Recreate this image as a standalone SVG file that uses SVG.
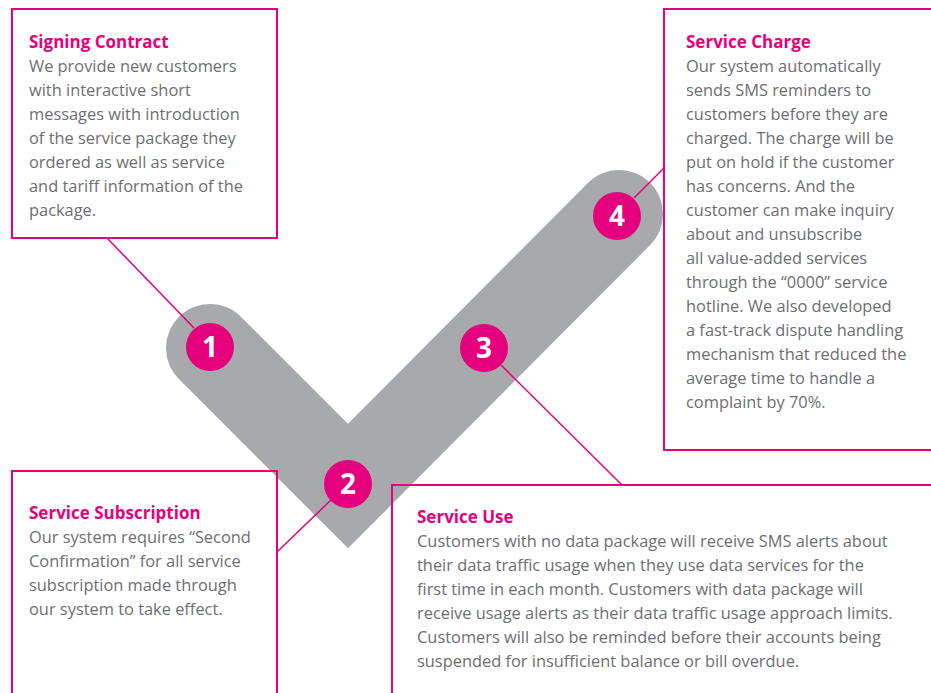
<svg xmlns="http://www.w3.org/2000/svg" width="931" height="693" viewBox="0 0 931 693">
<style>
.box{fill:none;stroke:#e5007e;stroke-width:2}
.conn{stroke:#e5007e;stroke-width:1.5;fill:none}
.t{font-family:"Open Sans","Liberation Sans",sans-serif;font-weight:700;font-size:17px;fill:#e5007e}
.b{font-family:"Open Sans","Liberation Sans",sans-serif;font-size:16.4px;fill:#6d6e71}
.dot{fill:#e5007e}
.num{font-family:"Open Sans","Liberation Sans",sans-serif;font-weight:700;font-size:28px;fill:#fff;text-anchor:middle}
</style>
<rect width="931" height="693" fill="#fff"/>
<path id="check" d="M210,348 L348,486 L619,214" fill="none" stroke="#a7a9ac" stroke-width="88" stroke-linecap="round" stroke-linejoin="miter"/>
<g id="connectors">
<line class="conn" x1="107" y1="238" x2="194" y2="328"/>
<line class="conn" x1="277" y1="552" x2="331" y2="500"/>
<line class="conn" x1="622" y1="485" x2="501" y2="365"/>
<line class="conn" x1="664" y1="168" x2="634" y2="198"/>
</g>
<g id="node1">
<rect class="box" x="12" y="9" width="265" height="229"/>
<text class="t" x="29" y="48">Signing Contract</text>
<text class="b" x="29" y="72">We provide new customers</text>
<text class="b" x="29" y="96">with interactive short</text>
<text class="b" x="29" y="120">messages with introduction</text>
<text class="b" x="29" y="144">of the service package they</text>
<text class="b" x="29" y="168">ordered as well as service</text>
<text class="b" x="29" y="192">and tariff information of the</text>
<text class="b" x="29" y="216">package.</text>
</g>
<g id="node2">
<rect class="box" x="12" y="471" width="265" height="240"/>
<text class="t" x="29" y="519">Service Subscription</text>
<text class="b" x="29" y="543">Our system requires “Second</text>
<text class="b" x="29" y="567">Confirmation” for all service</text>
<text class="b" x="29" y="591">subscription made through</text>
<text class="b" x="29" y="615">our system to take effect.</text>
</g>
<g id="node3">
<rect class="box" x="392" y="485" width="560" height="240"/>
<text class="t" x="417" y="523">Service Use</text>
<text class="b" x="417" y="547">Customers with no data package will receive SMS alerts about</text>
<text class="b" x="417" y="571">their data traffic usage when they use data services for the</text>
<text class="b" x="417" y="595">first time in each month. Customers with data package will</text>
<text class="b" x="417" y="619">receive usage alerts as their data traffic usage approach limits.</text>
<text class="b" x="417" y="643">Customers will also be reminded before their accounts being</text>
<text class="b" x="417" y="667">suspended for insufficient balance or bill overdue.</text>
</g>
<g id="node4">
<rect class="box" x="664" y="9" width="290" height="441"/>
<text class="t" x="686" y="48">Service Charge</text>
<text class="b" x="686" y="72">Our system automatically</text>
<text class="b" x="686" y="96">sends SMS reminders to</text>
<text class="b" x="686" y="120">customers before they are</text>
<text class="b" x="686" y="144">charged. The charge will be</text>
<text class="b" x="686" y="168">put on hold if the customer</text>
<text class="b" x="686" y="192">has concerns. And the</text>
<text class="b" x="686" y="216">customer can make inquiry</text>
<text class="b" x="686" y="240">about and unsubscribe</text>
<text class="b" x="686" y="264">all value-added services</text>
<text class="b" x="686" y="288">through the “0000” service</text>
<text class="b" x="686" y="312">hotline. We also developed</text>
<text class="b" x="686" y="336">a fast-track dispute handling</text>
<text class="b" x="686" y="360">mechanism that reduced the</text>
<text class="b" x="686" y="384">average time to handle a</text>
<text class="b" x="686" y="408">complaint by 70%.</text>
</g>
<g id="step1"><circle class="dot" cx="210" cy="347" r="24"/><text class="num" x="210" y="357">1</text></g>
<g id="step2"><circle class="dot" cx="348" cy="484" r="24"/><text class="num" x="348" y="494">2</text></g>
<g id="step3"><circle class="dot" cx="484" cy="348" r="24"/><text class="num" x="484" y="358">3</text></g>
<g id="step4"><circle class="dot" cx="617" cy="216" r="24"/><text class="num" x="617" y="226">4</text></g>
</svg>
